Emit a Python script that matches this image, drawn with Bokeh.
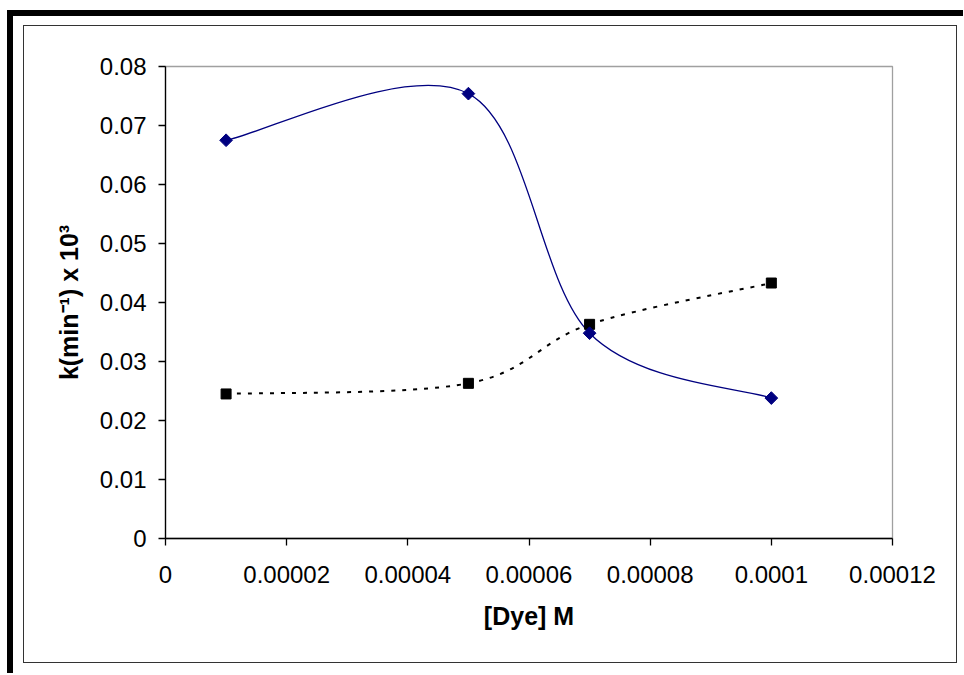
import numpy as np
from bokeh.plotting import figure
from bokeh.layouts import column
from bokeh.models import FixedTicker, Range1d
from bokeh.embed import file_html
from bokeh.resources import INLINE

# ---- data ----
dye = [0.00001, 0.00005, 0.00007, 0.0001]
k_series1 = [0.0675, 0.0754, 0.0348, 0.0238]
k_series2 = [0.0245, 0.0263, 0.0363, 0.0433]
x_ticks = [0, 0.00002, 0.00004, 0.00006, 0.00008, 0.0001, 0.00012]
x_tick_labels = ["0", "0.00002", "0.00004", "0.00006", "0.00008", "0.0001", "0.00012"]
y_ticks = [0, 0.01, 0.02, 0.03, 0.04, 0.05, 0.06, 0.07, 0.08]
y_tick_labels = ["0", "0.01", "0.02", "0.03", "0.04", "0.05", "0.06", "0.07", "0.08"]
x_title = "[Dye] M"
y_title = "k(min\u207b\u00b9) x 10\u00b3"


def smooth_segments(xs, ys):
    """Excel-like smoothed line: cubic Bezier control points (Catmull-Rom)."""
    n = len(xs)
    P = list(zip(xs, ys))
    out = {k: [] for k in ("x0", "y0", "x1", "y1", "cx0", "cy0", "cx1", "cy1")}
    for i in range(n - 1):
        p0 = P[i - 1] if i > 0 else P[i]
        p1 = P[i]
        p2 = P[i + 1]
        p3 = P[i + 2] if i + 2 < n else P[i + 1]
        out["x0"].append(p1[0]); out["y0"].append(p1[1])
        out["x1"].append(p2[0]); out["y1"].append(p2[1])
        out["cx0"].append(p1[0] + (p2[0] - p0[0]) / 6.0)
        out["cy0"].append(p1[1] + (p2[1] - p0[1]) / 6.0)
        out["cx1"].append(p2[0] - (p3[0] - p1[0]) / 6.0)
        out["cy1"].append(p2[1] - (p3[1] - p1[1]) / 6.0)
    return out


FONT = "Liberation Sans"

p = figure(width=932, height=636, output_backend="svg", toolbar_location=None,
           x_range=Range1d(0, 0.00012), y_range=Range1d(0, 0.08),
           min_border_left=141, min_border_right=64, min_border_top=40,
           min_border_bottom=124, background_fill_color="white",
           border_fill_color="white")
p.xgrid.visible = False
p.ygrid.visible = False
p.outline_line_color = "#a0a0a0"
p.outline_line_width = 1.3

for ax in (p.xaxis[0], p.yaxis[0]):
    ax.axis_line_color = "black"
    ax.axis_line_width = 1.3
    ax.major_tick_line_color = "black"
    ax.major_tick_line_width = 1.3
    ax.major_tick_out = 7
    ax.major_tick_in = 0
    ax.minor_tick_out = 0
    ax.minor_tick_in = 0
    ax.major_label_text_font = FONT
    ax.major_label_text_font_size = "24px"
    ax.major_label_text_color = "black"
    ax.axis_label_text_font = FONT
    ax.axis_label_text_font_size = "25px"
    ax.axis_label_text_font_style = "bold"
    ax.axis_label_text_color = "black"

p.xaxis.ticker = FixedTicker(ticks=x_ticks)
p.xaxis.major_label_overrides = dict(zip(x_ticks, x_tick_labels))
p.yaxis.ticker = FixedTicker(ticks=y_ticks)
p.yaxis.major_label_overrides = dict(zip(y_ticks, y_tick_labels))
p.xaxis.major_label_standoff = 20
p.yaxis.major_label_standoff = 12
p.xaxis.axis_label = x_title
p.yaxis.axis_label = y_title
p.xaxis.axis_label_standoff = 16
p.yaxis.axis_label_standoff = 14

# smoothed lines
s2 = smooth_segments(dye, k_series2)
p.bezier(source=s2, x0="x0", y0="y0", x1="x1", y1="y1", cx0="cx0", cy0="cy0",
         cx1="cx1", cy1="cy1", line_color="black", line_width=2, line_dash="4 7")
s1 = smooth_segments(dye, k_series1)
p.bezier(source=s1, x0="x0", y0="y0", x1="x1", y1="y1", cx0="cx0", cy0="cy0",
         cx1="cx1", cy1="cy1", line_color="#000080", line_width=1.3)

p.scatter(dye, k_series2, marker="square", size=10, fill_color="black",
          line_color="black", line_width=1)
p.scatter(dye, k_series1, marker="square", angle=np.pi / 4, size=9,
          fill_color="#000080", line_color="#000080", line_width=1)

# chart-area frame and the thick black edge on the left and top
inner = column(p, styles={"border": "1.5px solid #333333"})
outer = column(inner, styles={
    "margin-left": "7px", "margin-top": "10px",
    "border-left": "6px solid black", "border-top": "6px solid black",
    "padding-left": "9.5px", "padding-top": "9px",
    "padding-right": "6px", "padding-bottom": "10px",
})

open("out.html", "w").write(file_html(outer, INLINE))
